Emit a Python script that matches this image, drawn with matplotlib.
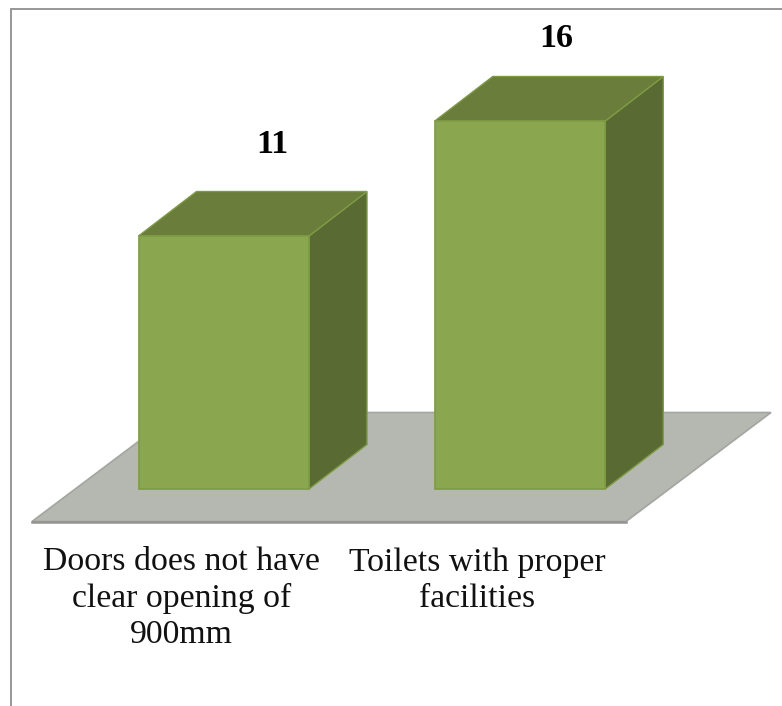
#!/usr/bin/env python3
"""3D-style column chart of door and toilet counts on a grey floor."""

import matplotlib
matplotlib.use("Agg")
import matplotlib.pyplot as plt
from matplotlib.patches import Polygon

# ---------------------------------------------------------------------------
# Data
# ---------------------------------------------------------------------------
categories = ["Doors does not have\nclear opening of\n900mm",
              "Toilets with proper\nfacilities"]
values = [11, 16]

# ---------------------------------------------------------------------------
# Config
# ---------------------------------------------------------------------------
W, H = 782, 706
DPI = 100

# scale: one category step and one count in pixels
PX_X = 296.25
PX_Y = 23.0
ORIGIN_X = 223.75
ORIGIN_Y = 489.0

BAR_W = 170.5 / PX_X
DEPTH_X = 58.0 / PX_X
DEPTH_Y = 44.5 / PX_Y

C_FRONT = "#8aa64f"
C_TOP = "#6b7d3b"
C_SIDE = "#596a32"
C_EDGE = "#7d9a45"
C_FLOOR = "#b5b8b0"
C_FLOOR_EDGE = "#a3a5a0"
C_FLOOR_FRONT = "#949494"
C_FRAME = "#8f8f8f"

FONT = ["Liberation Serif", "DejaVu Serif"]


def ux(px):
    return (px - ORIGIN_X) / PX_X


def uy(px):
    return (ORIGIN_Y - px) / PX_Y


fig = plt.figure(figsize=(W / DPI, H / DPI), dpi=DPI, facecolor="white")
ax = fig.add_axes([0, 0, 1, 1])
ax.set_xlim(ux(0), ux(W))
ax.set_ylim(uy(H), uy(0))
ax.axis("off")

# --- Chart frame (left and top only) ---
ax.plot([ux(10.5), ux(10.5), ux(W)], [uy(H), uy(8.5), uy(8.5)],
        color=C_FRAME, lw=1.3, solid_joinstyle="miter", zorder=1)

# --- Floor ---
floor = [(ux(32), uy(521.5)), (ux(626), uy(521.5)), (ux(771), uy(412.5)), (ux(177), uy(412.5))]
ax.add_patch(Polygon(floor, closed=True, fc=C_FLOOR, ec=C_FLOOR_EDGE, lw=1.2, zorder=2))
ax.plot([ux(32), ux(626)], [uy(521.5), uy(521.5)], color=C_FLOOR_FRONT, lw=1.8, zorder=2)

# --- Columns ---
for i, v in enumerate(values):
    x0 = i - BAR_W / 2
    x1 = i + BAR_W / 2
    front = [(x0, 0), (x1, 0), (x1, v), (x0, v)]
    top = [(x0, v), (x1, v), (x1 + DEPTH_X, v + DEPTH_Y), (x0 + DEPTH_X, v + DEPTH_Y)]
    side = [(x1, 0), (x1 + DEPTH_X, DEPTH_Y), (x1 + DEPTH_X, v + DEPTH_Y), (x1, v)]
    ax.add_patch(Polygon(side, closed=True, fc=C_SIDE, ec=C_EDGE, lw=1.0, zorder=3))
    ax.add_patch(Polygon(top, closed=True, fc=C_TOP, ec=C_EDGE, lw=1.0, zorder=3))
    ax.add_patch(Polygon(front, closed=True, fc=C_FRONT, ec=C_EDGE, lw=1.2, zorder=4))

# --- Value labels ---
value_x = [ux(272), ux(556)]
value_base = [uy(153), uy(47)]
for x, y, v in zip(value_x, value_base, values):
    ax.text(x, y, str(v), family=FONT, fontsize=24.5, fontweight="bold",
            color="black", ha="center", va="baseline", zorder=5)

# --- Category labels ---
label_x = [ux(181.5), ux(477)]
for x, label in zip(label_x, categories):
    ax.text(x, uy(547), label, family=FONT, fontsize=24.3, color="#111111",
            ha="center", va="top", linespacing=1.24, zorder=5)

fig.savefig("out.png", dpi=DPI, facecolor="white")
plt.close(fig)
